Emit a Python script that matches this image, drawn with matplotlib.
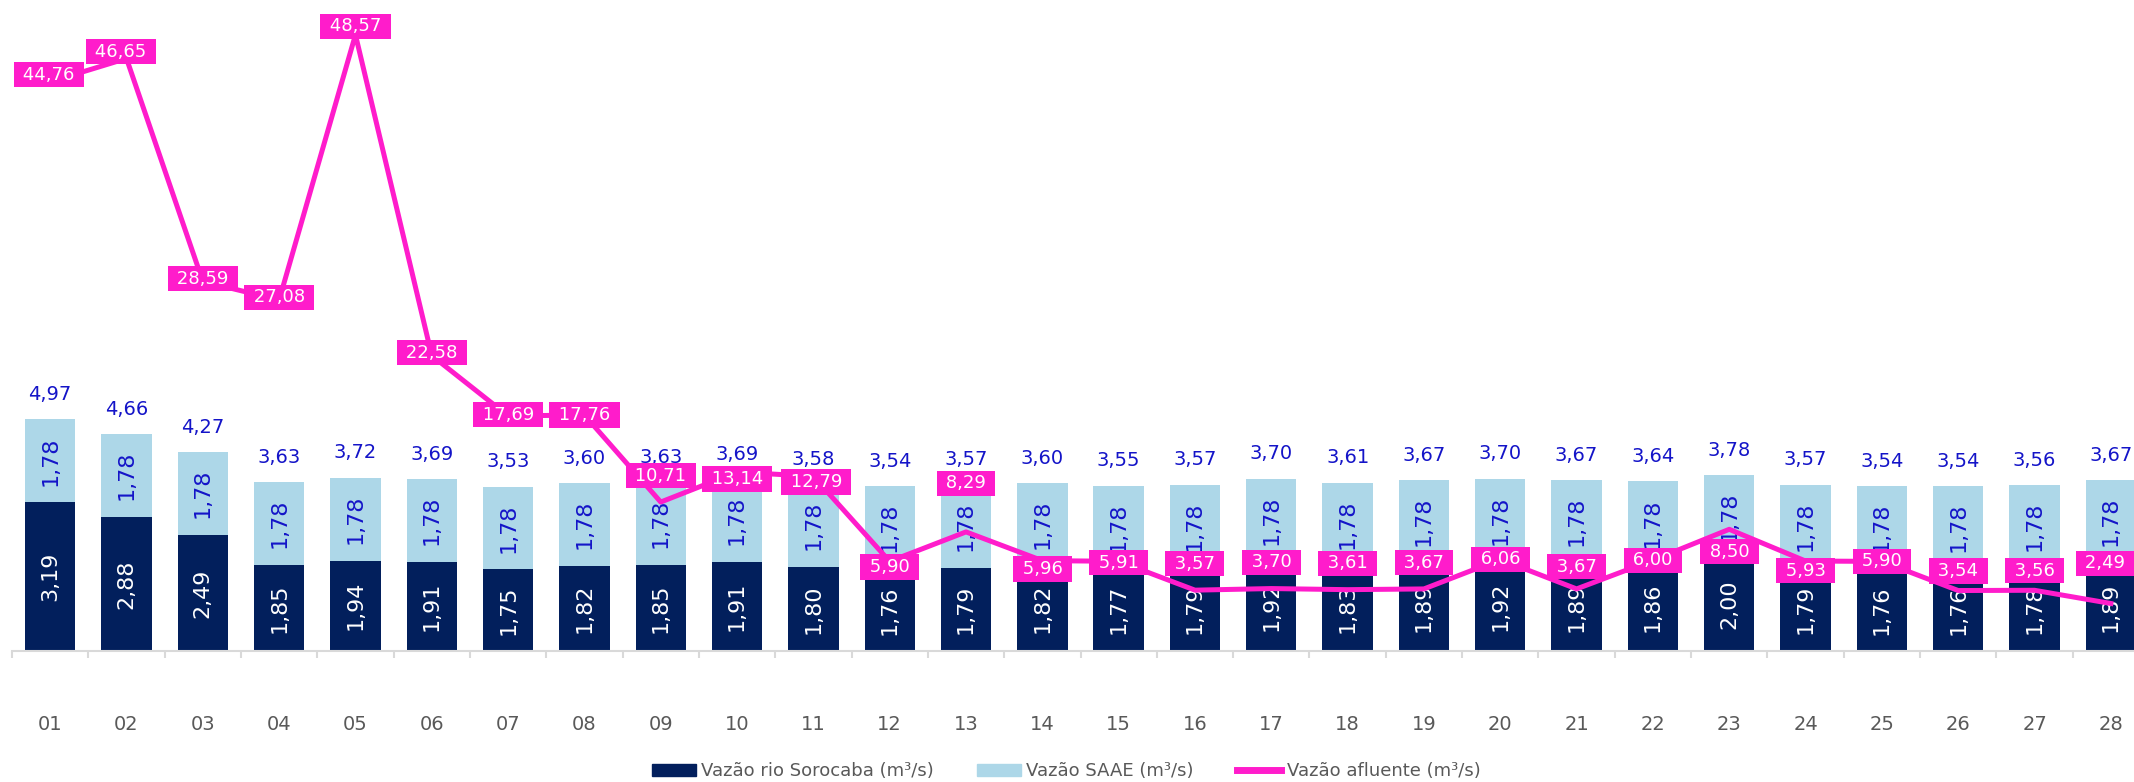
import matplotlib
matplotlib.use('Agg')
import matplotlib.pyplot as plt
from matplotlib.patches import Patch
from matplotlib.lines import Line2D
import numpy as np

days = ['01', '02', '03', '04', '05', '06', '07', '08', '09', '10', '11', '12', '13', '14',
        '15', '16', '17', '18', '19', '20', '21', '22', '23', '24', '25', '26', '27', '28']
vazao_sorocaba = [3.19, 2.88, 2.49, 1.85, 1.94, 1.91, 1.75, 1.82, 1.85, 1.91, 1.80, 1.76, 1.79, 1.82,
                  1.77, 1.79, 1.92, 1.83, 1.89, 1.92, 1.89, 1.86, 2.00, 1.79, 1.76, 1.76, 1.78, 1.89]
vazao_saae = [1.78, 1.78, 1.78, 1.78, 1.78, 1.78, 1.78, 1.78, 1.78, 1.78, 1.78, 1.78, 1.78, 1.78,
              1.78, 1.78, 1.78, 1.78, 1.78, 1.78, 1.78, 1.78, 1.78, 1.78, 1.78, 1.78, 1.78, 1.78]
vazao_afluente = [44.76, 46.65, 28.59, 27.08, 48.57, 22.58, 17.69, 17.76, 10.71, 13.14, 12.79, 5.90, 8.29, 5.96,
                  5.91, 3.57, 3.70, 3.61, 3.67, 6.06, 3.67, 6.00, 8.50, 5.93, 5.90, 3.54, 3.56, 2.49]

# nudges (points) for the line labels, as placed in the original chart
label_dx = [-1, -4, 0, 0, 0, 0, 0, 0, 0, 0, 2, 0, 0, 0,
            0, 0, 0, 0, 0, 0, 0, 0, 0, 0, 0, 0, 0, -4]
label_dy = [5, 5, 2, 2, 6, 2, 1, 0, 19, -5, -4, -4, 35, -6,
            -1, 19, 19, 19, 19, 0, 16, 0, -16, -7, 0, 14, 14, 29]

DARK = '#021F5C'
LIGHT = '#ADD7E8'
MAGENTA = '#FF1CCB'
BLUE = '#1414C8'
GRAY = '#595959'


def fmt(v):
    return f'{v:.2f}'.replace('.', ',')


plt.rcParams['font.family'] = ['DejaVu Sans']

fig = plt.figure(figsize=(21.34, 7.82), dpi=100)
ax = fig.add_axes([12 / 2134, 131 / 782, 2137 / 2134, 651 / 782])
x = np.arange(len(days))
totals = [a + b for a, b in zip(vazao_sorocaba, vazao_saae)]

ax.bar(x, vazao_sorocaba, width=0.66, color=DARK)
ax.bar(x, vazao_saae, width=0.66, bottom=vazao_sorocaba, color=LIGHT)

for i in range(len(days)):
    ax.text(x[i], vazao_sorocaba[i] / 2, fmt(vazao_sorocaba[i]), rotation=90,
            ha='center', va='center', color='white', fontsize=16)
    ax.text(x[i], vazao_sorocaba[i] + vazao_saae[i] / 2, fmt(vazao_saae[i]), rotation=90,
            ha='center', va='center', color=BLUE, fontsize=16)
    ax.annotate(fmt(totals[i]), (x[i], totals[i]), xytext=(0, 11), textcoords='offset points',
                ha='center', va='bottom', color=BLUE, fontsize=14)

ax.set_xlim(-0.5, len(days) - 0.5)
ax.set_ylim(0, 13.97)
ax.set_yticks([])
for s in ['top', 'right', 'left']:
    ax.spines[s].set_visible(False)
ax.spines['bottom'].set_color('#D9D9D9')
ax.spines['bottom'].set_linewidth(1.5)
ax.set_xticks(x)
ax.set_xticklabels(days, fontsize=14, color=GRAY)
ax.tick_params(axis='x', which='major', length=0, pad=46)
ax.set_xticks(np.arange(-0.5, len(days), 1.0), minor=True)
ax.tick_params(axis='x', which='minor', length=5, color='#D9D9D9', width=1.5)

ax2 = ax.twinx()
ax2.plot(x, vazao_afluente, color=MAGENTA, linewidth=3.6)
ax2.set_ylim(-1.36, 51.39)
ax2.axis('off')
for i, v in enumerate(vazao_afluente):
    ax2.annotate(' ' + fmt(v) + ' ', (x[i], v), xytext=(label_dx[i], label_dy[i]),
                 textcoords='offset points', ha='center', va='center', color='white', fontsize=13,
                 bbox=dict(boxstyle='square,pad=0.2', fc=MAGENTA, ec='none'))

handles = [Patch(color=DARK), Patch(color=LIGHT), Line2D([], [], color=MAGENTA, linewidth=5)]
labels = ['Vazão rio Sorocaba (m³/s)', 'Vazão SAAE (m³/s)', 'Vazão afluente (m³/s)']
fig.legend(handles, labels, loc='center', bbox_to_anchor=(1066 / 2134, 11 / 782), ncol=3,
           frameon=False, prop={'size': 13}, labelcolor=GRAY,
           handlelength=2.45, handleheight=0.67, handletextpad=0.28, columnspacing=2.4,
           borderpad=0)

fig.savefig('out.png', dpi=100)
plt.close(fig)
